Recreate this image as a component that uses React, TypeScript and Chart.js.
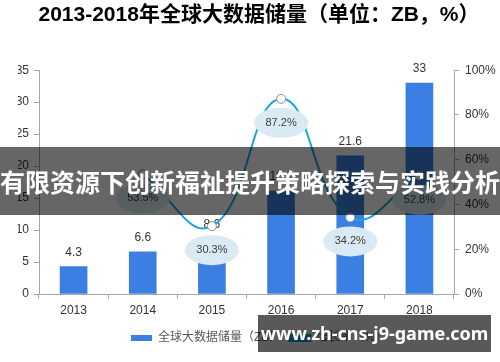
import React, { useEffect, useRef } from "react";
import { Chart, registerables } from "chart.js";

Chart.register(...registerables);

const titleText = "2013-2018年全球大数据储量（单位：ZB，%）";
const years = ["2013", "2014", "2015", "2016", "2017", "2018"];
const storage = [4.3, 6.6, 8.6, 16.1, 21.6, 33];
const growth: (number | null)[] = [null, 53.5, 30.3, 87.2, 34.2, 52.8];
const storageLabel = "全球大数据储量（ZB）";
const growthLabel = "增长率（%）";
const bannerText = "有限资源下创新福祉提升策略探索与实践分析";
const watermarkText = "www.zh-cns-j9-game.com";

const FONT = "Arial, 'Liberation Sans', 'Noto Sans CJK SC', sans-serif";

const labelPlugin = {
  id: "valueLabels",
  afterDatasetDraw(chart: any, args: any) {
    if (args.index !== 0) return;
    const ctx = chart.ctx;
    const meta = chart.getDatasetMeta(0);
    ctx.save();
    ctx.font = `12px ${FONT}`;
    ctx.fillStyle = "#333333";
    ctx.textAlign = "center";
    ctx.textBaseline = "middle";
    meta.data.forEach((el: any, i: number) => {
      ctx.fillText(String(storage[i]), el.x, el.y - 14);
    });
    ctx.restore();
  },
  afterDatasetsDraw(chart: any) {
    const ctx = chart.ctx;
    const meta = chart.getDatasetMeta(1);
    ctx.save();
    meta.data.forEach((el: any, i: number) => {
      const v = growth[i];
      if (v == null) return;
      const cx = el.x;
      const cy = el.y + 24;
      ctx.beginPath();
      ctx.ellipse(cx, cy, 27, 15, 0, 0, Math.PI * 2);
      ctx.fillStyle = "#DAEAF4";
      ctx.fill();
      ctx.font = `11px ${FONT}`;
      ctx.fillStyle = "#404040";
      ctx.textAlign = "center";
      ctx.textBaseline = "middle";
      ctx.fillText(v.toFixed(1) + "%", cx, cy);
    });
    ctx.restore();
  },
};

export default function App() {
  const ref = useRef<HTMLCanvasElement | null>(null);

  useEffect(() => {
    if (!ref.current) return;
    const chart = new Chart(ref.current, {
      type: "bar",
      data: {
        labels: years,
        datasets: [
          {
            type: "bar",
            label: storageLabel,
            data: storage,
            backgroundColor: "#3A7FE1",
            borderWidth: 0,
            barThickness: 27,
            yAxisID: "y",
            order: 1,
          } as any,
          {
            type: "line",
            label: growthLabel,
            data: growth,
            borderColor: "#1BA6DD",
            backgroundColor: "#1BA6DD",
            borderWidth: 2,
            tension: 0.45,
            pointRadius: 4.5,
            pointBackgroundColor: "#FFFFFF",
            pointBorderColor: "#8C8C8C",
            pointBorderWidth: 1,
            yAxisID: "y1",
            order: 0,
          } as any,
        ],
      },
      options: {
        responsive: false,
        animation: false,
        layout: { padding: { left: 18, right: 0, top: 0, bottom: 8 } },
        plugins: {
          title: {
            display: true,
            text: titleText,
            color: "#000000",
            font: { family: FONT, size: 21, weight: "bold" },
            padding: { top: 3, bottom: 42 },
          },
          legend: {
            position: "bottom",
            labels: {
              boxWidth: 21,
              boxHeight: 6,
              padding: 8,
              color: "#595959",
              font: { family: FONT, size: 12 },
              sort: (a: any, b: any) => a.datasetIndex - b.datasetIndex,
            },
          },
          tooltip: { enabled: false },
        },
        scales: {
          x: {
            grid: {
              display: true,
              drawOnChartArea: false,
              tickLength: 5,
              color: "#A6A6A6",
              offset: true,
            },
            border: { color: "#A6A6A6" },
            ticks: { color: "#333333", font: { family: FONT, size: 12 }, padding: 4 },
            afterFit: (s: any) => {
              s.height = 30;
            },
          },
          y: {
            position: "left",
            min: 0,
            max: 35,
            ticks: { stepSize: 5, color: "#333333", font: { family: FONT, size: 12 }, padding: 5 },
            grid: { display: true, drawOnChartArea: false, tickLength: 5, color: "#A6A6A6" },
            border: { color: "#A6A6A6" },
            afterFit: (s: any) => {
              s.width = 21;
            },
          },
          y1: {
            position: "right",
            min: 0,
            max: 100,
            ticks: {
              stepSize: 20,
              color: "#333333",
              font: { family: FONT, size: 12 },
              padding: 6,
              callback: (v: any) => v + "%",
            },
            grid: { display: true, drawOnChartArea: false, tickLength: 5, color: "#A6A6A6" },
            border: { color: "#A6A6A6" },
            afterFit: (s: any) => {
              s.width = 46;
            },
          },
        },
      } as any,
      plugins: [labelPlugin],
    });
    return () => chart.destroy();
  }, []);

  return (
    <div style={{ position: "fixed", left: 0, top: 0, width: 500, height: 362, background: "#fff" }}>
      <canvas ref={ref} width={500} height={362} style={{ display: "block" }} />
      <div
        style={{
          position: "absolute",
          left: 0,
          top: 147,
          width: 500,
          height: 68,
          background: "rgba(0,0,0,0.6)",
          color: "#fff",
          fontFamily: "'Noto Sans CJK SC', sans-serif",
          fontWeight: 700,
          fontSize: 25,
          lineHeight: "68px",
          textAlign: "center",
          whiteSpace: "nowrap",
          overflow: "hidden",
        }}
      >
        {bannerText}
      </div>
      <div
        style={{
          position: "absolute",
          left: 258,
          top: 315,
          width: 233,
          height: 37,
          background: "rgba(0,0,0,0.65)",
          color: "#fff",
          fontFamily: "'Noto Sans', 'DejaVu Sans', sans-serif",
          fontWeight: 700,
          fontSize: 18,
          lineHeight: "37px",
          textAlign: "center",
          whiteSpace: "nowrap",
        }}
      >
        {watermarkText}
      </div>
    </div>
  );
}
